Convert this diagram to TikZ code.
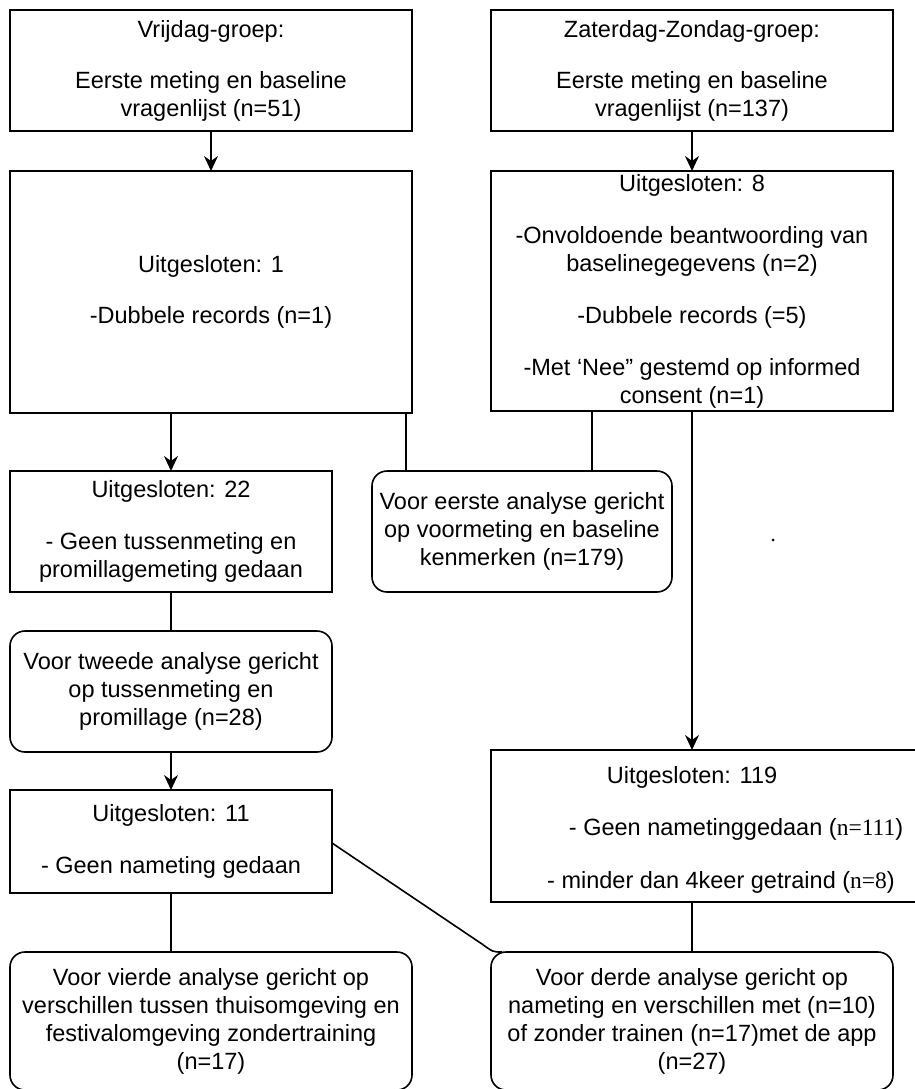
\documentclass[tikz,border=0pt]{standalone}
\usepackage{fontspec}
\setmainfont{Liberation Sans}
\newfontfamily\serifn{Liberation Serif}
\usetikzlibrary{arrows.meta,calc}
\newcommand\fsz{\fontsize{23.5}{28}\selectfont}
\tikzset{
  box/.style={draw, line width=1.6pt, rectangle, inner sep=0pt, outer sep=0pt, align=center, font=\fsz},
  rbox/.style={box, rounded corners=15pt},
  arr/.style={-{Stealth[length=15pt,width=14pt,inset=5pt]}, line width=1.6pt},
  conn/.style={line width=1.6pt},
  lbl/.style={inner sep=0pt, font=\fsz}
}
\begin{document}
\begin{tikzpicture}[x=1pt,y=-1pt]
\useasboundingbox (0,0) rectangle (915,1089);
% top boxes
\node[box, minimum width=402pt, minimum height=121pt] (A) at (211,70.5)
  {Vrijdag-groep:\\[23pt]Eerste meting en baseline\\vragenlijst (n=51)};
\node[box, minimum width=402pt, minimum height=121pt] (B) at (692,70.5)
  {Zaterdag-Zondag-groep:\\[23pt]Eerste meting en baseline\\vragenlijst (n=137)};
% second row
\node[box, minimum width=402pt, minimum height=242pt] (C) at (211,292)
  {Uitgesloten: 1\\[23pt]-Dubbele records (n=1)};
\node[box, minimum width=402pt, minimum height=240pt] (D) at (692,291)
  {Uitgesloten: 8\\[24pt]-Onvoldoende beantwoording van\\baselinegegevens (n=2)\\[24pt]-Dubbele records (=5)\\[24pt]-Met ‘Nee” gestemd op informed\\consent (n=1)};
% third row
\node[box, minimum width=322pt, minimum height=121pt] (E) at (171,531.5)
  {Uitgesloten: 22\\[24pt]- Geen tussenmeting en\\promillagemeting gedaan};
\node[rbox, minimum width=300pt, minimum height=121pt] (F) at (522,531.5)
  {Voor eerste analyse gericht\\op voormeting en baseline\\kenmerken (n=179)};
\node[circle, fill, inner sep=0pt, minimum size=3pt] (dot) at (773,540) {};
% fourth row
\node[rbox, minimum width=322pt, minimum height=121pt] (G) at (171,691.5)
  {Voor tweede analyse gericht\\op tussenmeting en\\promillage (n=28)};
\node[box, minimum width=322pt, minimum height=103pt] (I) at (171,841.5)
  {Uitgesloten: 11\\[24pt]- Geen nameting gedaan};
\node[box, minimum width=434pt, minimum height=152pt] (H) at (708,826) {};
\node[lbl] (H1) at (692,777) {Uitgesloten: 119};
\node[lbl] (H2) at (736,829) {- Geen nametinggedaan ({\serifn n=111})};
\node[lbl] (H3) at (721,882) {- minder dan 4keer getraind ({\serifn n=8})};
% bottom row
\node[rbox, minimum width=402pt, minimum height=138pt] (K) at (211,1021)
  {Voor vierde analyse gericht op\\verschillen tussen thuisomgeving en\\festivalomgeving zondertraining\\(n=17)};
\node[rbox, minimum width=402pt, minimum height=138pt] (J) at (692,1021)
  {Voor derde analyse gericht op\\nameting en verschillen met (n=10)\\of zonder trainen (n=17)met de app\\(n=27)};
% connectors
\draw[arr] (A.south) -- (C.north);
\draw[arr] (B.south) -- (D.north);
\draw[arr] (E.north |- C.south) -- (E.north);
\draw[conn] ([xshift=-6pt]C.south east) -- ([xshift=-6pt]C.south east |- F.north);
\draw[conn] ([xshift=101pt]D.south west) -- ([xshift=101pt]D.south west |- F.north);
\draw[arr] (D.south) -- (D.south |- H.north);
\draw[conn] (E.south) -- (G.north);
\draw[arr] (G.south) -- (I.north);
\draw[conn] (I.south) -- (I.south |- K.north);
\draw[conn] (J.north |- H.south) -- (J.north);
\draw[conn] ([yshift=-1.5pt]I.east) -- ($(J.north west)+(-9,-8)$) .. controls ($(J.north west)+(2,0)$) .. ([xshift=11pt]J.north west);
\end{tikzpicture}
\end{document}
